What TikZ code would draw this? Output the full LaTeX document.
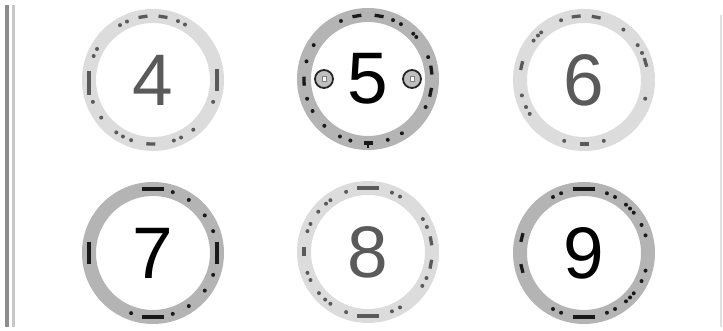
\documentclass[tikz,border=0pt]{standalone}
\usepackage{fontspec}
\usetikzlibrary{calc}
\newfontfamily\digitfont{Liberation Sans}
\definecolor{ringlight}{HTML}{DCDCDC}
\definecolor{ringdark}{HTML}{B4B4B4}
\definecolor{marklight}{HTML}{5A5A5A}
\definecolor{markdark}{HTML}{1A1A1A}
\definecolor{digitlight}{HTML}{5A5A5A}
\tikzset{
  dialbase/.style={circle, line width=14pt, minimum size=128pt, inner sep=0pt,
    font=\digitfont\fontsize{73}{73}\selectfont},
  diallight/.style={dialbase, draw=ringlight, text=digitlight},
  dialdark/.style={dialbase, draw=ringdark, text=black},
  knob/.style={circle, draw=black!85, fill=black!25, line width=1.8pt, minimum size=18pt, inner sep=0pt},
}
% #1 node name, #2 mark colour, #3 dots, #4 short dashes, #5 long dashes
\newcommand\dialmarks[5]{%
  \foreach \a in {#3} \fill[#2] (#1.center) ++(\a:64) circle (2pt);
  \foreach \a in {#4} \draw[#2, line width=3.3pt] (#1.center) ++(\a:64) ++(\a+90:4.5) -- ++(\a-90:9);
  \foreach \a in {#5} \draw[#2, line width=3.3pt] (#1.center) ++(\a:64) ++(\a+90:11) -- ++(\a-90:22);
}
\begin{document}
\begin{tikzpicture}[x=1pt,y=1pt]
\useasboundingbox (0,0) rectangle (723,331);
% frame lines
\fill[black!45] (5,4) rectangle (9,326);
\fill[black!22] (12,4) rectangle (15,326);
\fill[black!12] (720,4) rectangle (722,316);
% dials
\node[diallight] (d4) at (153,251) {4};
\node[dialdark]  (d5) at (368,252) {5};
\node[diallight] (d6) at (584,251) {6};
\node[dialdark]  (d7) at (153,78) {7};
\node[diallight] (d8) at (368,79) {8};
\node[dialdark]  (d9) at (584,78) {9};
\dialmarks{d4}{marklight}{121,114,67,60,151,158,200,216,235,242,250,289,296,309,340}{99,81,268}{}
\draw[marklight, line width=3.3pt] (d4.center) ++(183:64) ++(0,12) -- ++(0,-24);
\draw[marklight, line width=3.3pt] (d4.center) ++(0:64) ++(0,11) -- ++(0,-22);
\dialmarks{d5}{markdark}{115,67,59,45,41,148,164,20,198,210,334,227,244,254,288,302}{100,80,8,182,348,270}{}
\draw[markdark, line width=1.6pt] (d5.center) ++(270:64) -- ++(0,-5);
\dialmarks{d6}{marklight}{111,52,142,136,132,33,25,194,205,212,343,252,288}{97,79,270,16,167}{}
\dialmarks{d7}{markdark}{72,56,36,20,340,324,304,288,250}{}{90,0,180,270}
\dialmarks{d8}{marklight}{110,68,60,131,126,141,154,161,31,23,199,206,336,328,220,228,234,250,292,300}{10,180,349}{90,270}
\dialmarks{d9}{markdark}{119,111,69,61,49,44,39,26,16,344,334,311,316,321,241,249,291,299}{166,194}{90,270}
% knobs in dial 5
\node[knob] (k1) at ($(d5.center)+(-44,0)$) {};
\node[knob] (k2) at ($(d5.center)+(44,0)$) {};
\foreach \k in {k1,k2}
  \filldraw[fill=white, draw=black!50, line width=0.6pt] ($(\k.center)+(-2.2,-2.2)$) rectangle ($(\k.center)+(2.2,2.2)$);
\end{tikzpicture}
\end{document}
